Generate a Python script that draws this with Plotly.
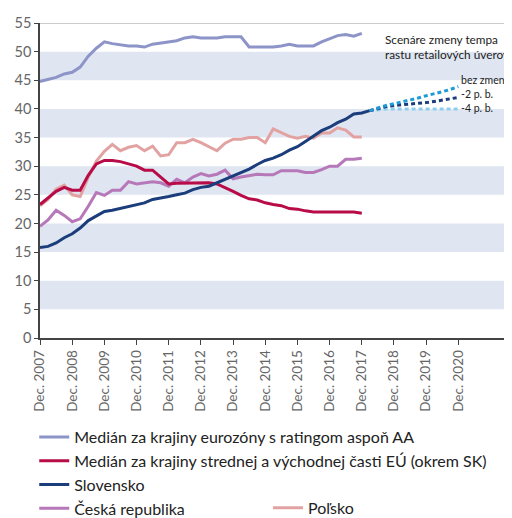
import plotly.graph_objects as go
import pandas as pd

# quarterly observations, Dec 2007 - Dec 2017 (Slovensko one quarter longer)
dates = pd.date_range("2007-12-01", periods=42, freq="3MS")
proj_dates = pd.date_range("2018-03-01", periods=12, freq="3MS")

euro_aa = [44.8, 45.1, 45.5, 46.1, 46.4, 47.3, 49.2, 50.6, 51.7, 51.4,
           51.2, 51.0, 51.0, 50.8, 51.3, 51.5, 51.7, 51.9, 52.4, 52.6,
           52.4, 52.4, 52.4, 52.6, 52.6, 52.6, 50.8, 50.8, 50.8, 50.8,
           51.0, 51.3, 51.0, 51.0, 51.0, 51.7, 52.2, 52.8, 53.0, 52.7, 53.2]
cee = [23.3, 24.5, 25.6, 26.3, 25.8, 25.8, 28.4, 30.4, 31.0, 31.0,
       30.8, 30.4, 30.0, 29.3, 29.3, 28.1, 26.9, 27.0, 27.0, 27.1,
       27.1, 27.1, 26.9, 26.3, 25.6, 24.9, 24.3, 24.1, 23.6, 23.3,
       23.1, 22.6, 22.5, 22.2, 22.0, 22.0, 22.0, 22.0, 22.0, 22.0, 21.8]
slovensko = [15.8, 16.0, 16.6, 17.5, 18.2, 19.2, 20.5, 21.3, 22.1, 22.3,
             22.6, 22.9, 23.3, 23.6, 24.2, 24.4, 24.7, 25.0, 25.3, 25.9,
             26.3, 26.5, 27.1, 27.7, 28.2, 28.8, 29.5, 30.3, 31.0, 31.4,
             32.0, 32.8, 33.4, 34.3, 35.3, 36.2, 36.8, 37.6, 38.2, 39.1,
             39.3, 39.7]
cesko = [19.5, 20.6, 22.3, 21.4, 20.3, 20.8, 23.0, 25.4, 24.9, 25.8,
         25.8, 27.3, 26.9, 27.1, 27.3, 27.1, 26.5, 27.7, 27.1, 28.1,
         28.7, 28.3, 28.6, 29.3, 27.8, 28.1, 28.4, 28.6, 28.5, 28.5,
         29.2, 29.2, 29.2, 28.9, 28.9, 29.4, 30.0, 30.0, 31.2, 31.2, 31.4]
polsko = [23.1, 24.2, 26.0, 26.7, 25.0, 24.7, 28.1, 30.9, 32.6, 33.8,
          32.7, 33.3, 33.6, 32.7, 33.5, 31.8, 32.0, 34.1, 34.1, 34.7,
          34.1, 33.4, 32.7, 34.0, 34.7, 34.7, 35.0, 35.0, 34.1, 36.5,
          35.9, 35.2, 34.9, 35.2, 34.9, 35.8, 35.8, 36.7, 36.3, 35.1, 35.1]

# scenarios for Slovensko, Mar 2018 - Dec 2020
bez_zmeny = [39.7, 40.2, 40.6, 40.9, 41.2, 41.5, 41.9, 42.3, 42.6, 43.0, 43.4, 43.9]
minus2 = [39.7, 40.1, 40.4, 40.6, 40.7, 40.8, 41.0, 41.1, 41.3, 41.5, 41.8, 42.0]
minus4 = [39.7, 39.9, 40.0, 40.0, 40.0, 40.0, 40.0, 40.0, 40.0, 40.0, 40.0, 40.0]

tick_years = list(range(2007, 2021))
band_lows = [5, 15, 25, 35, 45]

font = "Lato, 'Open Sans', sans-serif"

fig = go.Figure()

series = [
    ("Medián za krajiny eurozóny s ratingom aspoň AA", euro_aa, "#8d94c8", "legend", 1),
    ("Medián za krajiny strednej a východnej časti EÚ (okrem SK)", cee, "#b70c47", "legend", 2),
    ("Slovensko", slovensko, "#1b3d7b", "legend", 3),
    ("Česká republika", cesko, "#b678b9", "legend", 4),
    ("Poľsko", polsko, "#e3a2a2", "legend2", 5),
]
# draw order: back to front, legend order set by legendrank
for idx in [4, 3, 1, 0, 2]:
    name, vals, color, leg, rank = series[idx]
    fig.add_trace(go.Scatter(
        x=dates[:len(vals)], y=vals, mode="lines", name=name,
        line=dict(color=color, width=3), legend=leg, legendrank=rank,
    ))

scen = [
    ("-4 p. b.", minus4, "#8fcdee", 1),
    ("-2 p. b.", minus2, "#1b3d7b", 3),
    ("bez zmeny", bez_zmeny, "#1f9ad8", 7),
]
for name, vals, color, lift in scen:
    fig.add_trace(go.Scatter(
        x=proj_dates, y=vals, mode="lines", name=name, showlegend=False,
        line=dict(color=color, width=3, dash="4px,3px"),
    ))
    fig.add_annotation(
        x=proj_dates[-1], y=vals[-1], text=name, showarrow=False,
        xanchor="left", yanchor="middle", xshift=1, yshift=lift,
        font=dict(size=10.5, color="#222", family=font),
    )

fig.add_annotation(
    x=0.715, y=0.977, xref="paper", yref="paper",
    text="Scenáre zmeny tempa<br>rastu retailových úverov:",
    showarrow=False, xanchor="left", yanchor="top", align="left",
    font=dict(size=11.8, color="#222", family=font),
)

for lo in band_lows:
    fig.add_shape(type="rect", xref="paper", yref="y", x0=0, x1=1,
                  y0=lo, y1=lo + 5, fillcolor="#dfe6f1", line_width=0,
                  layer="below")
fig.add_shape(type="line", xref="paper", yref="y", x0=0, x1=1, y0=55, y1=55,
              line=dict(color="#9a9a9a", width=1))

fig.update_layout(
    width=512, height=518,
    margin=dict(l=32, r=0, t=15, b=179),
    plot_bgcolor="white", paper_bgcolor="white",
    font=dict(family=font, color="#555"),
    showlegend=True,
    legend=dict(
        orientation="v", x=-0.012, y=-0.262, xanchor="left", yanchor="top",
        font=dict(size=16, color="#222", family=font), bgcolor="rgba(0,0,0,0)",
        traceorder="normal",
    ),
    legend2=dict(
        orientation="v", x=0.475, y=-0.485, xanchor="left", yanchor="top",
        font=dict(size=16, color="#222", family=font), bgcolor="rgba(0,0,0,0)",
    ),
)

fig.update_xaxes(
    range=["2007-12-01", "2022-11-01"],
    tickvals=[f"{y}-12-01" for y in tick_years],
    ticktext=[f"Dec. {y}" for y in tick_years],
    tickangle=-90, ticks="outside", ticklen=5, tickcolor="#444",
    showline=True, linecolor="#444", linewidth=1.5,
    showgrid=False, zeroline=False,
    tickfont=dict(size=13.5, color="#666"),
)
fig.update_yaxes(
    range=[0, 55], dtick=5, ticks="outside", ticklen=4, tickcolor="#444",
    showline=True, linecolor="#444", linewidth=1.5,
    showgrid=False, zeroline=False,
    tickfont=dict(size=14.5, color="#666"),
)

fig.write_html("out.html")
